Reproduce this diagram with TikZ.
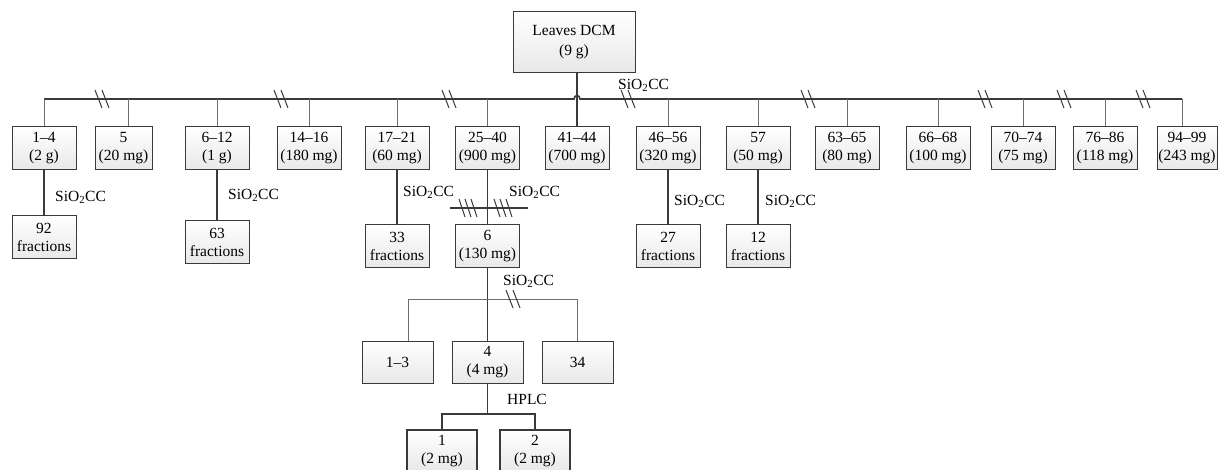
\documentclass[tikz,border=0pt]{standalone}
\usepackage{fontspec}
\setmainfont{Liberation Serif}
\definecolor{ln}{HTML}{3A3A3A}
\definecolor{lg}{HTML}{6E6E6E}
\tikzset{
 box/.style={draw=ln, line width=1pt, top color=white, bottom color=black!9, minimum width=64pt, minimum height=43pt, inner sep=1pt, align=center, font=\fontsize{15.5}{18}\selectfont},
 lbl/.style={anchor=west, inner sep=0pt, font=\fontsize{15.5}{18}\selectfont},
 mainline/.style={draw=ln, line width=1.6pt},
 branch/.style={draw=lg, line width=1pt},
 feed/.style={draw=ln, line width=1.6pt},
 crossl/.style={draw=ln, line width=1.3pt},
 brk/.pic={\draw[ln, line width=1pt] (-7,-9)--(0,9) (0,-9)--(7,9);},
 brkthree/.pic={\draw[ln, line width=1pt] (-9,-9)--(-3,9) (-3,-9)--(3,9) (3,-9)--(9,9);},
}
\begin{document}
\begin{tikzpicture}[x=1pt,y=-1pt]
\clip (0,0) rectangle (1218,470);
% top node
\node[box, minimum width=122pt, minimum height=61pt, font=\fontsize{15.5}{20}\selectfont] (top) at (574,42.5) {Leaves DCM\\(9 g)};
% first row
\node[box] (b14) at (44,148.5) {1--4\\(2 g)};
\node[box, minimum width=57pt] (b5) at (123.5,148.5) {5\\(20 mg)};
\node[box] (b612) at (217,148.5) {6--12\\(1 g)};
\node[box] (b1416) at (309,148.5) {14--16\\(180 mg)};
\node[box] (b1721) at (397,148.5) {17--21\\(60 mg)};
\node[box] (b2540) at (487.5,148.5) {25--40\\(900 mg)};
\node[box] (b4144) at (577,148.5) {41--44\\(700 mg)};
\node[box] (b4656) at (668,148.5) {46--56\\(320 mg)};
\node[box] (b57) at (758,148.5) {57\\(50 mg)};
\node[box] (b6365) at (847,148.5) {63--65\\(80 mg)};
\node[box] (b6668) at (938,148.5) {66--68\\(100 mg)};
\node[box] (b7074) at (1023,148.5) {70--74\\(75 mg)};
\node[box] (b7686) at (1105,148.5) {76--86\\(118 mg)};
\node[box, minimum width=60pt, inner sep=0pt] (b9499) at (1187,148.5) {94--99\\(243 mg)};
% main horizontal line with hop
\coordinate (hl) at (0,99);
\coordinate (t5) at (128,99);
\coordinate (t9499) at (1182,99);
\draw[mainline] (b14.north |- hl) -- (574,99) .. controls (574,94.5) and (580,94.5) .. (580,99) -- (t9499);
\foreach \n in {b14,b612,b1416,b1721,b2540,b4656,b57,b6365,b6668,b7074,b7686}
  \draw[branch] (\n.north |- hl) -- (\n.north);
\draw[branch] (t5) -- (t5 |- b5.north);
\draw[branch] (t9499) -- (t9499 |- b9499.north);
\draw[feed] (top.south -| b4144.north) -- (b4144.north);
\foreach \x in {102,281,449,628,808,985,1064,1143} \pic at (\x,99) {brk};
\node[lbl] (l0) at (618,85) {SiO\textsubscript{2}CC};
% second row
\node[box] (f92) at (44,237) {92\\fractions};
\node[box] (f63) at (217,242.5) {63\\fractions};
\node[box] (f33) at (397,246.5) {33\\fractions};
\node[box] (n6) at (487.5,246.5) {6\\(130 mg)};
\node[box] (f27) at (668,246.5) {27\\fractions};
\node[box] (f12) at (758,246.5) {12\\fractions};
\draw[feed] (b14.south) -- (f92.north);
\draw[feed] (b612.south) -- (f63.north);
\draw[feed] (b1721.south) -- (f33.north);
\draw[feed] (b2540.south) -- (n6.north);
\draw[feed] (b4656.south) -- (f27.north);
\draw[feed] (b57.south) -- (f12.north);
\node[lbl] (l1) at (55,197) {SiO\textsubscript{2}CC};
\node[lbl] (l2) at (228,195) {SiO\textsubscript{2}CC};
\node[lbl] (l3) at (403,192) {SiO\textsubscript{2}CC};
\node[lbl] (l4) at (509,192) {SiO\textsubscript{2}CC};
\node[lbl] (l5) at (674,201) {SiO\textsubscript{2}CC};
\node[lbl] (l6) at (765,201) {SiO\textsubscript{2}CC};
\coordinate (xl) at (450,208);
\coordinate (xr) at (528,208);
\draw[crossl] (xl) -- (xr);
\pic at (468,208) {brkthree};
\pic at (503,208) {brkthree};
% third row
\node[box, minimum width=71pt, minimum height=42pt] (n13) at (397.5,362) {1--3};
\node[box, minimum width=71pt, minimum height=42pt] (n4) at (487.5,362) {4\\(4 mg)};
\node[box, minimum width=71pt, minimum height=42pt] (n34) at (577.5,362) {34};
\coordinate (h3) at (0,300);
\coordinate (t13) at (408,300);
\draw[feed] (n6.south) -- (n4.north);
\draw[branch] (t13 |- n13.north) -- (t13) -- (n34.north |- h3) -- (n34.north);
\node[lbl] (l7) at (503,281) {SiO\textsubscript{2}CC};
\pic at (513,299) {brk};
% fourth row
\node[box, line width=1.8pt, minimum width=70pt] (n1) at (442,451.5) {1\\(2 mg)};
\node[box, line width=1.8pt, minimum width=70pt] (n2) at (535,451.5) {2\\(2 mg)};
\coordinate (h4) at (0,414);
\draw[crossl] (n4.south) -- (n4.south |- h4);
\draw[crossl] (n1.north) |- (n2.north |- h4) -- (n2.north);
\node[lbl] (l8) at (507,399) {HPLC};
\end{tikzpicture}
\end{document}
